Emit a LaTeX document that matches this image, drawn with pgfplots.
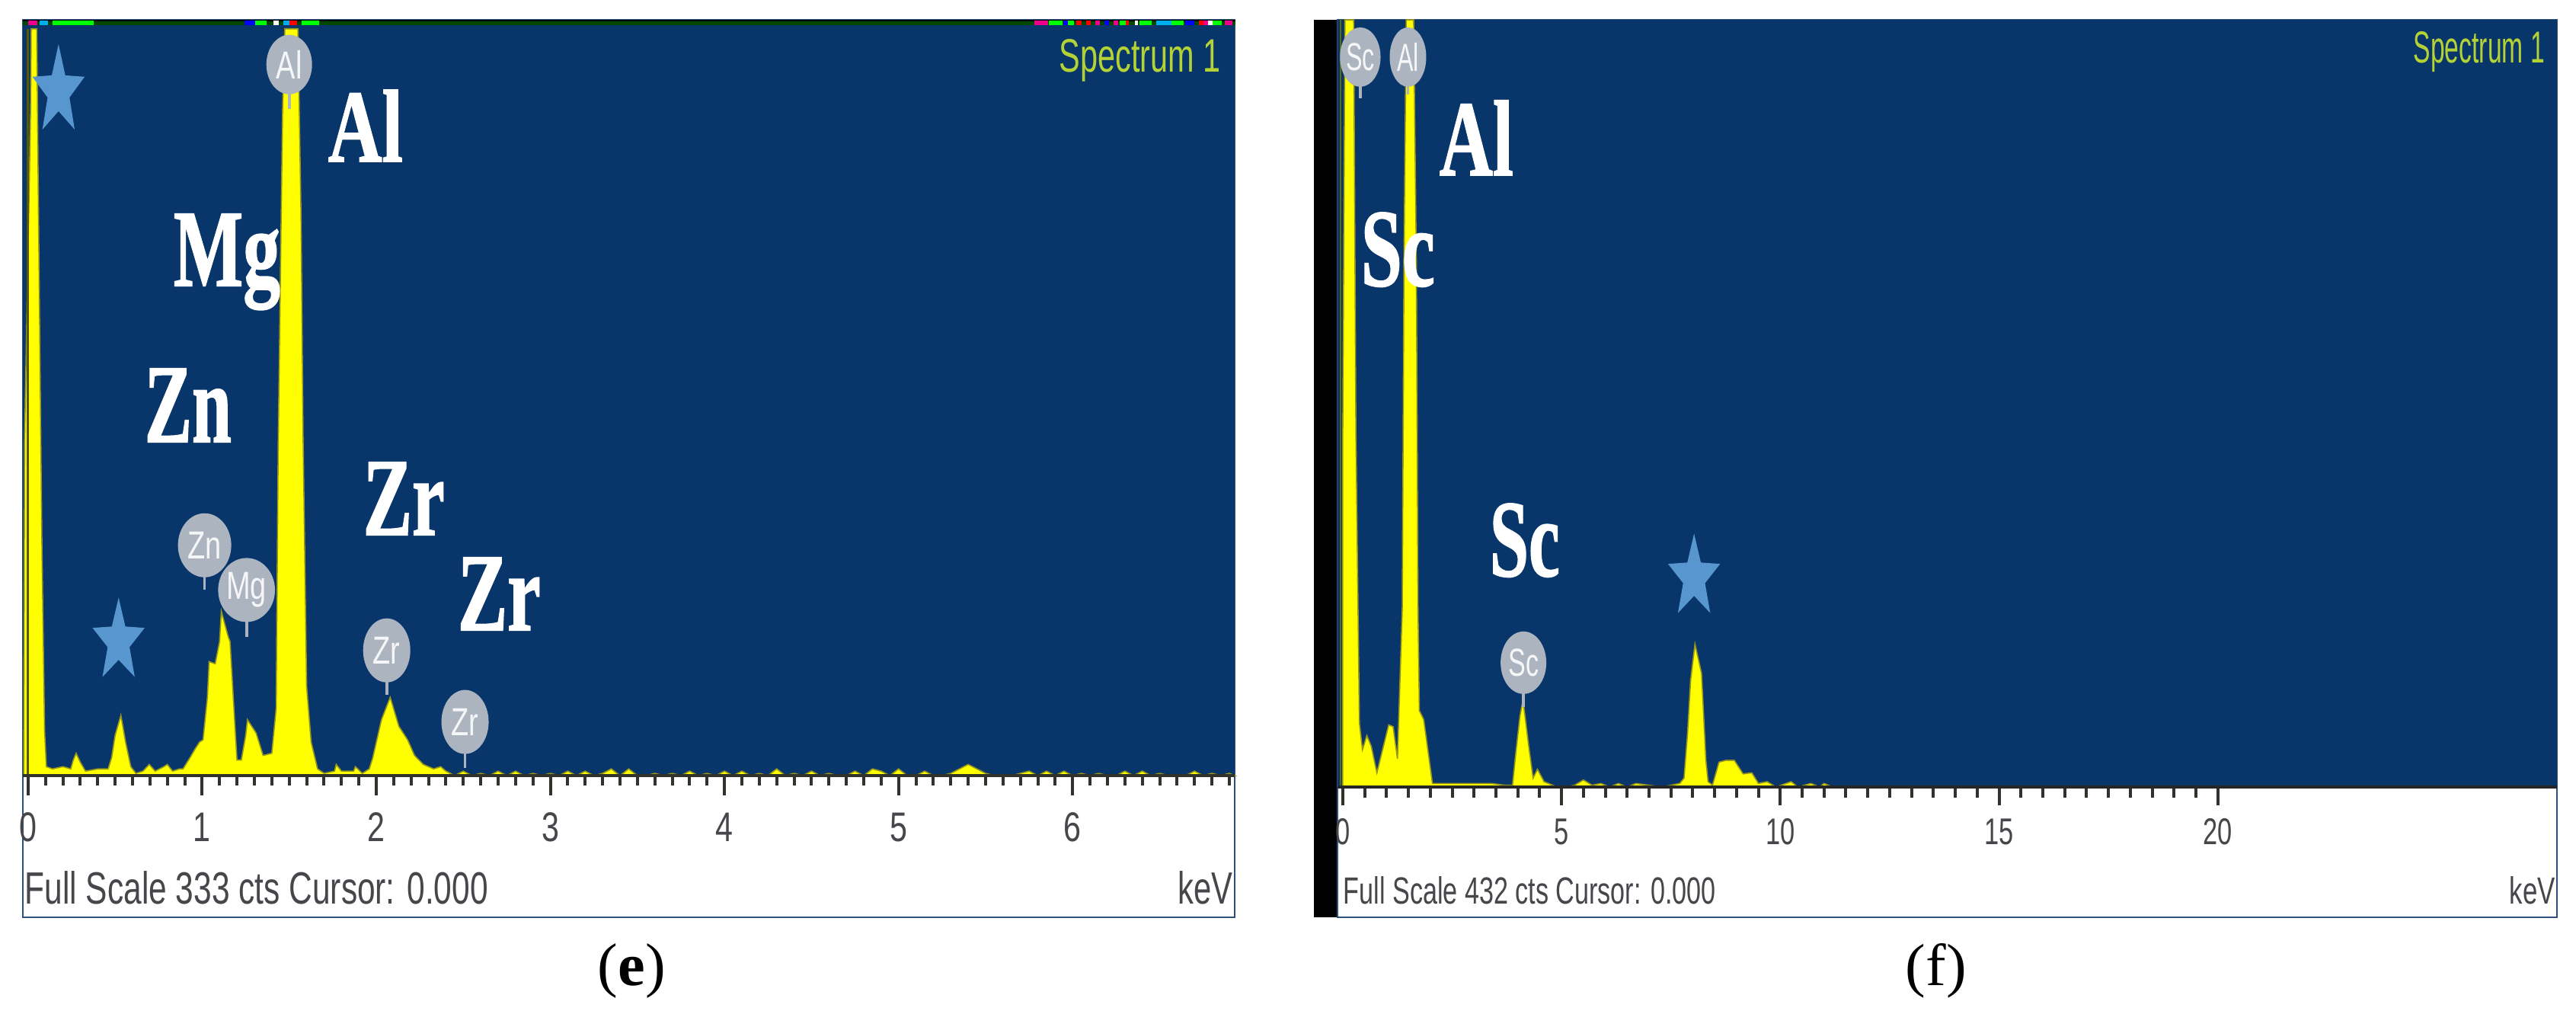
\documentclass[border=0pt]{standalone}
\usepackage{fontspec}
\setmainfont{Liberation Sans}
\newfontfamily\serif[FakeBold=1.4]{Liberation Serif Bold}
\newfontfamily\serifr{Liberation Serif}
\usepackage{graphicx}
\usepackage{pgfplots}
\pgfplotsset{compat=1.18}
\usetikzlibrary{shapes.geometric}
\definecolor{bg}{RGB}{8,54,107}
\definecolor{peak}{RGB}{255,255,0}
\definecolor{edgeol}{RGB}{150,150,30}
\definecolor{starc}{RGB}{88,150,208}
\definecolor{badge}{RGB}{172,180,192}
\definecolor{spec}{RGB}{180,210,53}
\definecolor{tk}{RGB}{50,50,45}
\definecolor{txt}{RGB}{70,70,75}
\definecolor{frame}{RGB}{45,80,125}
\newcommand{\sizedtext}[6]{% x1 x2 top base color text
  \pgfmathsetmacro{\myw}{(#2-#1)*0.25}\pgfmathsetmacro{\myh}{(#4-#3)*0.25}%
  \node[anchor=base west,inner sep=0pt,text=#5] at (#1,#4) {\resizebox{\myw pt}{\myh pt}{#6}};}
% badge: x, y (axis), stem end y, w px, h px, text
\newcommand{\badge}[6]{%
  \draw[badge,line width=0.9pt] (axis cs:#1,#2) -- (axis cs:#1,#3);
  \node[ellipse,fill=badge,inner sep=0pt,minimum width=#4*0.25pt,minimum height=#5*0.25pt,text=white!88!badge] at (axis cs:#1,#2)
    {\fontsize{9.5}{10}\selectfont\scalebox{1}[1.35]{#6}};}
\newcommand{\starmark}[3][1.6]{%
  \node[star,star points=5,star point ratio=2.382,fill=starc,draw=none,inner sep=0pt,minimum size=18pt,yscale=#1,transform shape] at (axis cs:#2,#3) {};}
\newcommand{\tle}[1]{\scalebox{1}[1.32]{#1}}
\newcommand{\tlf}[1]{\scalebox{1}[1.42]{#1}}
\pgfplotsset{spectrum/.style={
  scale only axis, clip=false, axis on top=true,
  axis x line=bottom, axis y line=none,
  axis line style={draw=tk,line width=0.9pt,-},
  axis background/.style={fill=bg},
  ymin=0, ytick=\empty,
  tick align=outside,
  major tick style={draw=tk,line width=1pt},
  minor tick style={draw=tk,line width=1pt},
  major tick length=6.5pt, minor tick length=3.3pt,
  xticklabel style={text=txt,inner sep=0pt,anchor=north},
}}
\begin{document}
\begin{tikzpicture}
\path[fill=white] (0,0) rectangle (845.5pt,-331.75pt);
% panel frames
\draw[frame,line width=0.6pt,fill=white] (7.5pt,-6.5pt) rectangle (405.2pt,-301pt);
\fill[black] (431.25pt,-6.5pt) rectangle (439pt,-301pt);
\draw[frame,line width=0.6pt,fill=white] (439pt,-6.5pt) rectangle (839.2pt,-301pt);

\begin{axis}[spectrum, at={(7.5pt,-254.5pt)}, anchor=south west,
  width=397.7pt, height=248pt,
  xmin=-0.03, xmax=6.93, ymax=338,
  xtick={0,1,2,3,4,5,6},
  xticklabels={\tle{0},\tle{1},\tle{2},\tle{3},\tle{4},\tle{5},\tle{6}},
  minor xtick={0,0.1,...,6.9},
  xticklabel style={font=\fontsize{10.3}{11}\selectfont,yshift=-5.5pt},
]
\addplot[fill=peak,draw=edgeol,line width=0.4pt] coordinates {
(-0.025,0)(-0.02,150)(0.015,300)(0.018,334)(0.05,334)(0.06,250)(0.08,100)(0.095,20)(0.105,4)
(0.14,3)(0.2,4)(0.245,3)(0.26,7)(0.276,10)(0.30,6)(0.33,2)(0.40,3)(0.46,3)
(0.48,8)(0.50,18)(0.533,27)(0.56,15)(0.59,4)(0.62,1)(0.66,2)(0.696,5)(0.73,2)(0.78,4)(0.80,5)(0.83,2)(0.87,3)
(0.89,3)(0.93,8)(0.96,12)(0.985,15)(1.005,16)(1.03,35)(1.04,51)(1.075,50)(1.10,60)(1.11,73.5)(1.15,62)(1.16,60)(1.19,20)(1.20,7)(1.225,7)(1.25,18)(1.26,25)(1.31,19)(1.35,9)(1.40,10)
(1.425,30)(1.437,150)(1.462,298)(1.475,334)(1.55,334)(1.568,250)(1.58,150)(1.60,40)(1.626,15)(1.663,3)(1.70,1)
(1.76,2)(1.77,5)(1.80,2)(1.87,2)(1.88,4)(1.92,1)(1.96,3)(1.98,8)(2.03,25)(2.08,35)(2.13,22)(2.18,16)(2.22,9)(2.27,5)(2.33,3)(2.37,4)(2.40,2)
(2.45,0)(2.5,2)(2.55,0)(2.6,1)(2.65,0)(2.7,2)(2.75,0)(2.8,2)(2.85,0)(2.9,1)(2.95,0)(3.0,1)(3.05,0)(3.1,2)(3.15,0)(3.2,2)(3.25,0)(3.3,1)(3.35,3)(3.4,0)(3.45,3)(3.5,0)(3.55,0)(3.6,1)(3.65,0)(3.7,1)(3.75,0)(3.8,2)(3.85,0)(3.9,1)(3.95,0)
(4.0,2)(4.05,0)(4.1,2)(4.15,0)(4.2,1)(4.25,0)(4.3,3)(4.35,0)(4.4,1)(4.45,0)(4.5,2)(4.55,0)(4.6,1)(4.65,0)(4.7,0)(4.75,2)(4.8,0)(4.85,3)(4.9,2)(4.95,0)(5.0,3)(5.05,0)(5.1,0)(5.15,2)(5.2,0)(5.25,0)(5.3,1)(5.35,3)(5.4,5)(5.45,3)(5.5,1)(5.55,0)(5.6,0)(5.65,0)(5.7,1)(5.75,2)(5.8,0)(5.85,2)(5.9,0)(5.95,2)(6.0,0)(6.05,1)(6.1,0)(6.15,1)(6.2,0)(6.25,0)(6.3,2)(6.35,0)(6.4,2)(6.45,0)(6.5,1)(6.55,0)(6.6,0)(6.65,0)(6.7,2)(6.75,0)(6.8,1)(6.85,0)(6.9,1)(6.93,0)
} \closedcycle;
\addplot[draw=black!65!peak,line width=0.7pt] coordinates {(0,0)(0,334)};
\badge{1.5}{318}{298}{60}{78}{Al}
\badge{1.014}{103}{83}{70}{84}{Zn}
\badge{1.255}{83}{62}{72}{84}{Mg}
\badge{2.06}{56}{36}{62}{84}{Zr}
\badge{2.51}{24}{3.4}{62}{84}{Zr}
\starmark[1.72]{0.175}{306}
\starmark{0.52}{60}
\end{axis}

\begin{axis}[spectrum, at={(439pt,-258.25pt)}, anchor=south west,
  width=400.2pt, height=251.75pt,
  xmin=-0.12, xmax=27.75, ymax=432,
  xtick={0,5,10,15,20},
  xticklabels={\tlf{0},\tlf{5},\tlf{10},\tlf{15},\tlf{20}},
  minor xtick={0,0.5,...,20},
  major tick length=6pt, minor tick length=3.6pt,
  axis line style={draw=black!85,line width=1pt,-},
  xticklabel style={font=\fontsize{8.6}{10}\selectfont,yshift=-4.2pt},
]
\addplot[fill=peak,draw=edgeol,line width=0.4pt] coordinates {
(0,0)(0,200)(0.05,432)(0.25,432)(0.3,200)(0.38,36)(0.45,21)(0.55,29)(0.65,23)(0.78,8)(0.90,20)(1.05,35)(1.15,34)(1.25,16)(1.36,100)(1.40,300)(1.45,432)(1.62,432)(1.68,300)(1.72,100)(1.75,43)(1.85,38)(2.05,2)
(2.3,2)(2.6,2)(3.0,2)(3.4,2)(3.7,1)(3.88,1)(3.95,18)(4.05,40)(4.12,49)(4.25,23)(4.35,5)(4.45,10)(4.6,3)(4.9,0)
(5.1,0)(5.3,1)(5.5,4)(5.7,1)(5.9,2)(6.1,0)(6.3,2)(6.5,0)(6.7,2)(7.0,1)(7.3,0)(7.5,1)(7.7,2)(7.8,5)(7.88,30)(7.95,60)(8.05,80.5)(8.2,64)(8.3,15)(8.35,3)(8.45,1)(8.6,14)(8.75,15)(8.95,15)(9.15,7.4)(9.35,8)(9.5,2)(9.7,3)(9.9,0)(10.25,3)(10.4,0)(10.7,2)(10.9,0)(11.0,2)(11.2,0)
} \closedcycle;
\addplot[draw=black!60!peak,line width=0.7pt] coordinates {(-0.05,0)(-0.05,432)};
\badge{0.40}{411}{388}{50}{78}{\scalebox{0.85}[1]{Sc}}
\badge{1.49}{411}{390}{48}{78}{\scalebox{0.85}[1]{Al}}
\badge{4.13}{70}{45}{60}{82}{\scalebox{0.9}[1]{Sc}}
\starmark{8.03}{118}
\end{axis}

\begin{scope}[x=0.25pt,y=-0.25pt]
% header bar of panel (e)
\fill[black!60!green!70!black] (30,26) rectangle (1622,33);
\fill[black] (30,26) rectangle (1622,28);
\foreach \a/\b/\c in {37/49/magenta,52/63/cyan,69/123/green,321/335/blue,335/350/green,359/366/white,372/380/cyan,380/390/red,396/419/green,1358/1376/magenta,1377/1395/green,1396/1402/blue,1402/1410/green,1413/1420/red,1426/1432/red,1438/1444/magenta,1450/1456/blue,1462/1468/magenta,1470/1478/green,1478/1482/red,1490/1494/white,1496/1512/green,1518/1538/cyan,1538/1554/green,1556/1568/blue,1574/1580/red,1580/1586/magenta,1586/1592/white,1592/1604/green,1608/1618/magenta}{
  \fill[\c] (\a,27.5) rectangle (\b,33);
}
\sizedtext{1390}{1602}{52}{95}{spec}{Spectrum 1}
\sizedtext{3168}{3340}{42}{83}{spec}{Spectrum 1}
% element labels
\sizedtext{430}{528}{118}{212}{white}{\serif Al}
\sizedtext{227}{367}{281}{375}{white}{\serif Mg}
\sizedtext{189}{303}{484}{580}{white}{\serif Zn}
\sizedtext{476}{583}{607}{702}{white}{\serif Zr}
\sizedtext{600}{709}{732}{827}{white}{\serif Zr}
\sizedtext{1889}{1986}{132}{230}{white}{\serif Al}
\sizedtext{1786}{1883}{279}{375}{white}{\serif Sc}
\sizedtext{1955}{2047}{661}{756}{white}{\serif Sc}
% footers
\sizedtext{32}{640}{1143}{1186}{txt}{Full Scale 333 cts Cursor: 0.000}
\sizedtext{1546}{1618}{1143}{1186}{txt}{keV}
\sizedtext{1763}{2252}{1150}{1186}{txt}{Full Scale 432 cts Cursor: 0.000}
\sizedtext{3294}{3354}{1150}{1186}{txt}{keV}
% panel letters
\sizedtext{784}{873}{1238}{1293}{black}{\serifr (\textbf{e})}
\sizedtext{2501}{2581}{1238}{1293}{black}{\serifr (f)}
\end{scope}
\end{tikzpicture}
\end{document}
